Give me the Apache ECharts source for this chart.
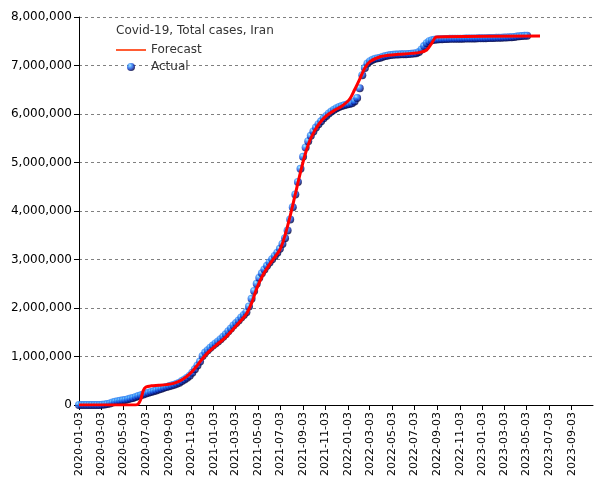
<!DOCTYPE html>
<html>
<head>
<meta charset="utf-8">
<script src="https://cdn.jsdelivr.net/npm/echarts@6/dist/echarts.min.js"></script>
<style>
html,body{margin:0;padding:0;background:#fff;}
#chart{width:605px;height:480px;}
</style>
</head>
<body>
<div id="chart"></div>
<script>
// ---- data ----
var chartTitle = 'Covid-19, Total cases, Iran';
var seriesNames = ['Forecast', 'Actual'];
var axisMinDate = '2020-01-03';
var axisMaxDate = '2023-10-31';
// x tick labels
var xTickLabels = ['2020-01-03','2020-03-03','2020-05-03','2020-07-03','2020-09-03','2020-11-03',
  '2021-01-03','2021-03-03','2021-05-03','2021-07-03','2021-09-03','2021-11-03',
  '2022-01-03','2022-03-03','2022-05-03','2022-07-03','2022-09-03','2022-11-03',
  '2023-01-03','2023-03-03','2023-05-03','2023-07-03','2023-09-03'];
// Actual: weekly values starting 2020-01-03
var actualStart = [2020, 0, 3];
var actualValues = [
  0,0,0,0,0,0,0,18,388,4747,11364,19644,32332,53183,68192,79494,88194,95646,104691,116635,
  131652,146668,167156,184955,200262,215096,235429,252720,269440,284034,301530,320117,336324,354764,369911,384666,
  399940,416198,436319,461044,492378,526490,562705,604952,663800,738322,815117,894385,1010000,1080000,1130000,1180000,
  1225000,1268000,1311000,1355000,1405000,1459000,1519000,1577000,1637000,1690000,1744000,1805000,1856000,1911000,2030000,2190000,
  2352000,2499000,2623000,2714000,2794000,2869000,2939000,3004000,3074000,3140000,3220000,3320000,3440000,3600000,3825000,4077000,
  4340000,4600000,4870000,5120000,5310000,5440000,5550000,5640000,5720000,5790000,5850000,5910000,5960000,6010000,6050000,6090000,
  6120000,6145000,6165000,6180000,6195000,6205000,6220000,6260000,6330000,6530000,6800000,6950000,7040000,7090000,7120000,7140000,
  7150000,7160000,7180000,7195000,7205000,7215000,7220000,7225000,7228000,7230000,7232000,7234000,7236000,7240000,7245000,7255000,
  7280000,7330000,7400000,7460000,7500000,7520000,7530000,7535000,7540000,7543000,7545000,7547000,7549000,7550000,7551000,7552000,
  7553000,7554000,7555000,7556000,7557000,7558000,7559000,7560000,7561000,7562000,7563000,7565000,7567000,7569000,7570000,7572000,
  7574000,7576000,7578000,7581000,7585000,7590000,7596000,7603000,7608000,7611000,7614000
];
// Forecast: key dates and values
var forecastDates = ['2020-01-03','2020-06-05','2020-06-12','2020-06-19','2020-06-26','2020-07-03','2020-07-17','2020-08-07',
  '2020-08-28','2020-09-18','2020-10-09','2020-10-30','2020-11-20','2020-12-04','2020-12-18','2021-01-08','2021-02-05',
  '2021-03-05','2021-04-02','2021-04-16','2021-04-30','2021-05-14','2021-06-04','2021-07-02','2021-07-16','2021-07-30',
  '2021-08-13','2021-08-27','2021-09-10','2021-09-24','2021-10-15','2021-11-05','2021-11-26','2021-12-17','2022-01-07',
  '2022-01-21','2022-02-04','2022-02-18','2022-03-04','2022-03-31','2022-04-22','2022-05-20','2022-06-24','2022-07-18',
  '2022-08-05','2022-08-18','2022-09-01','2023-06-09'];
var forecastValues = [0,0,20000,120000,300000,370000,395000,405000,
  420000,450000,520000,640000,820000,960000,1080000,1220000,1400000,
  1630000,1880000,2100000,2400000,2640000,2900000,3200000,3500000,3900000,
  4350000,4800000,5200000,5500000,5780000,5960000,6070000,6160000,6300000,
  6500000,6720000,6950000,7080000,7180000,7210000,7230000,7250000,7270000,
  7320000,7450000,7590000,7610000];
var yMin = 0, yMax = 8000000, yStep = 1000000;

// ---- build ----
function parseD(s){ var p = s.split('-'); return Date.UTC(+p[0], +p[1]-1, +p[2]); }
function fmtD(v){
  var d = new Date(v);
  var m = d.getUTCMonth() + 1, dd = d.getUTCDate();
  return d.getUTCFullYear() + '-' + (m < 10 ? '0' : '') + m + '-' + (dd < 10 ? '0' : '') + dd;
}
var actualData = actualValues.map(function(v, i){
  return [Date.UTC(actualStart[0], actualStart[1], actualStart[2] + 7*i), v];
});
var forecastData = forecastDates.map(function(d, i){ return [parseD(d), forecastValues[i]]; });
var tickVals = xTickLabels.map(parseD);

var sphere = new echarts.graphic.RadialGradient(0.35, 0.3, 0.75, [
  {offset: 0, color: '#b0eeff'},
  {offset: 0.25, color: '#3a9cff'},
  {offset: 0.6, color: '#1040d0'},
  {offset: 0.85, color: '#000a60'},
  {offset: 1, color: '#000030'}
]);

var chart = echarts.init(document.getElementById('chart'), null, {renderer: 'canvas'});
chart.setOption({
  animation: false,
  backgroundColor: '#ffffff',
  textStyle: {fontFamily: 'DejaVu Sans'},
  title: {
    text: chartTitle, left: 116, top: 25, padding: 0,
    textStyle: {fontSize: 12, fontWeight: 'normal', color: '#333', fontFamily: 'DejaVu Sans'}
  },
  legend: {
    orient: 'vertical', left: 116, top: 44, padding: 0,
    itemWidth: 30, itemHeight: 8, itemGap: 5,
    textStyle: {fontSize: 12, color: '#333', fontFamily: 'DejaVu Sans'},
    data: [
      {name: seriesNames[0], icon: 'path://M0,0 L30,0 L30,1.6 L0,1.6 Z', itemStyle: {color: '#ff3300'}},
      {name: seriesNames[1], icon: 'circle', itemStyle: {color: sphere}}
    ]
  },
  grid: {left: 79, right: 12, top: 17, bottom: 75, containLabel: false},
  xAxis: {
    type: 'value',
    min: parseD(axisMinDate), max: parseD(axisMaxDate),
    axisLine: {onZero: false, lineStyle: {color: '#000', width: 1}},
    axisTick: {show: true, length: 5, lineStyle: {color: '#000'}, customValues: tickVals},
    axisLabel: {
      rotate: 90, fontSize: 11, color: '#000', margin: 7, fontFamily: 'DejaVu Sans',
      customValues: tickVals, showMinLabel: true, showMaxLabel: true,
      formatter: function(v){ return fmtD(v); }
    },
    splitLine: {show: false}
  },
  yAxis: {
    type: 'value', min: yMin, max: yMax, interval: yStep,
    axisLine: {show: true, lineStyle: {color: '#000', width: 1}},
    axisTick: {show: true, length: 5, lineStyle: {color: '#000'}},
    axisLabel: {
      fontSize: 12, color: '#000', margin: 7, fontFamily: 'DejaVu Sans',
      formatter: function(v){ return v.toLocaleString('en-US'); }
    },
    splitLine: {show: true, lineStyle: {color: '#808080', type: [3, 3], width: 1}}
  },
  series: [
    {
      name: seriesNames[1], type: 'scatter', data: actualData,
      symbol: 'circle', symbolSize: 8, z: 2,
      itemStyle: {color: sphere}
    },
    {
      name: seriesNames[0], type: 'line', data: forecastData,
      symbol: 'none', smooth: 0.3, z: 3,
      lineStyle: {color: '#ff0000', width: 3},
      itemStyle: {color: '#ff3300'}
    }
  ]
});
</script>
</body>
</html>
